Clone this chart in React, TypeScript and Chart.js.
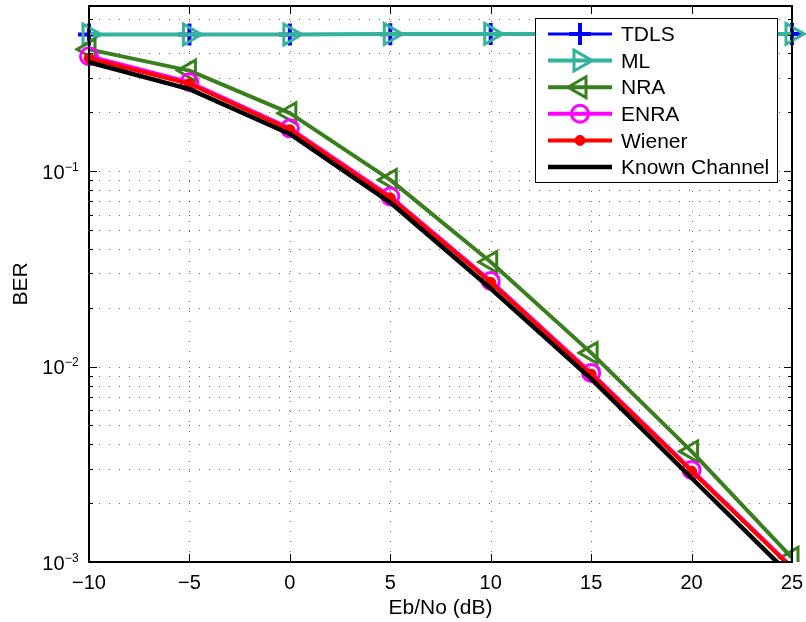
import React, { useEffect, useRef } from 'react';
import { Chart, registerables } from 'chart.js';
import { drawPoint } from 'chart.js/helpers';

Chart.register(...registerables);

// ---- data ----
const EBNO = [-10, -5, 0, 5, 10, 15, 20, 25];
const TDLS = [0.5, 0.5, 0.5, 0.502, 0.503, 0.503, 0.503, 0.503];
const ML = [0.5, 0.5, 0.501, 0.503, 0.504, 0.504, 0.504, 0.504];
const NRA = [0.42, 0.327, 0.198, 0.0902, 0.0343, 0.01175, 0.00368, 0.00105];
const ENRA = [0.387, 0.285, 0.1656, 0.0742, 0.0274, 0.00928, 0.00296, 0.00094];
const WIENER = [0.378, 0.28, 0.163, 0.073, 0.027, 0.00915, 0.00292, 0.00093];
const KNOWN = [0.361, 0.263, 0.155, 0.0691, 0.0251, 0.00865, 0.00269, 0.00084];

const SERIES_LABELS = ['TDLS', 'ML', 'NRA', 'ENRA', 'Wiener', 'Known Channel'];
const X_TICKS = [-10, -5, 0, 5, 10, 15, 20, 25];
const Y_DECADES = [0.001, 0.01, 0.1];
const Y_TICK_BASE = '10';
const Y_TICK_EXP = ['\u22123', '\u22122', '\u22121'];
const X_TITLE = 'Eb/No (dB)';
const Y_TITLE = 'BER';
const X_MIN = -10;
const X_MAX = 25;
const Y_MIN = 0.001;
const Y_MAX = 0.7;

const FONT = "'Liberation Sans', Arial, Helvetica, sans-serif";

const pts = (ys: number[]) => EBNO.map((x, i) => ({ x, y: ys[i] }));
const hideBelow = (r: number) => (c: any) => (c.raw && c.raw.y < Y_MIN ? 0 : r);
const CLIP = { left: false, top: false, right: false, bottom: 0 } as any;

const matlabPlugin = {
  id: 'matlabAxes',
  beforeDatasetsDraw(chart: any) {
    const { ctx, chartArea: a, scales } = chart;
    const x = scales.x;
    const y = scales.y;
    ctx.save();
    ctx.strokeStyle = 'rgba(0,0,0,0.6)';
    ctx.lineWidth = 1;
    ctx.setLineDash([1, 9]);
    for (const d of Y_DECADES) {
      for (let k = 1; k <= 9; k++) {
        const v = d * k;
        if (v > Y_MAX * 1.0001) continue;
        const py = Math.round(y.getPixelForValue(v)) + 0.5;
        if (py <= a.top + 2 || py >= a.bottom - 2) continue;
        ctx.beginPath();
        ctx.moveTo(a.left, py);
        ctx.lineTo(a.right, py);
        ctx.stroke();
      }
    }
    for (const v of X_TICKS) {
      const px = Math.round(x.getPixelForValue(v)) + 0.5;
      if (px <= a.left + 2 || px >= a.right - 2) continue;
      ctx.beginPath();
      ctx.moveTo(px, a.bottom);
      ctx.lineTo(px, a.top);
      ctx.stroke();
    }
    ctx.restore();
  },
  afterDatasetsDraw(chart: any) {
    const { ctx, chartArea: a, scales } = chart;
    const x = scales.x;
    const y = scales.y;
    ctx.save();
    ctx.setLineDash([]);
    ctx.strokeStyle = '#000';
    // ticks
    ctx.lineWidth = 1;
    for (const d of Y_DECADES) {
      for (let k = 1; k <= 9; k++) {
        const v = d * k;
        if (v > Y_MAX * 1.0001) continue;
        const py = Math.round(y.getPixelForValue(v)) + 0.5;
        const len = k === 1 ? 8 : 4;
        ctx.beginPath();
        ctx.moveTo(a.left, py);
        ctx.lineTo(a.left + len, py);
        ctx.moveTo(a.right, py);
        ctx.lineTo(a.right - len, py);
        ctx.stroke();
      }
    }
    for (const v of X_TICKS) {
      const px = Math.round(x.getPixelForValue(v)) + 0.5;
      ctx.beginPath();
      ctx.moveTo(px, a.bottom);
      ctx.lineTo(px, a.bottom - 8);
      ctx.moveTo(px, a.top);
      ctx.lineTo(px, a.top + 8);
      ctx.stroke();
    }
    // box
    ctx.lineWidth = 2;
    ctx.strokeRect(a.left, a.top, a.right - a.left, a.bottom - a.top);

    // y tick labels with superscript
    ctx.fillStyle = '#000';
    Y_DECADES.forEach((d, i) => {
      const py = y.getPixelForValue(d);
      ctx.font = `20px ${FONT}`;
      ctx.textAlign = 'right';
      ctx.textBaseline = 'alphabetic';
      ctx.fillText(Y_TICK_BASE, a.left - 24.5, py + 7.5);
      ctx.font = `12px ${FONT}`;
      ctx.textAlign = 'left';
      ctx.fillText(Y_TICK_EXP[i], a.left - 24, py - 0.5);
    });

    // legend
    const bx = 535.5, by = 18.5, bw = 242, bh = 164;
    ctx.fillStyle = '#fff';
    ctx.fillRect(bx, by, bw, bh);
    ctx.lineWidth = 1;
    ctx.strokeStyle = '#000';
    ctx.strokeRect(bx, by, bw, bh);
    chart.data.datasets.forEach((ds: any, i: number) => {
      const ry = 34 + i * 26.6;
      ctx.save();
      ctx.strokeStyle = ds.borderColor;
      ctx.lineWidth = ds.borderWidth;
      ctx.beginPath();
      ctx.moveTo(548, ry);
      ctx.lineTo(612, ry);
      ctx.stroke();
      if (ds.legendRadius > 0) {
        ctx.strokeStyle = ds.pointBorderColor;
        ctx.fillStyle = ds.pointBackgroundColor;
        ctx.lineWidth = ds.pointBorderWidth;
        drawPoint(ctx, {
          pointStyle: ds.pointStyle,
          rotation: ds.pointRotation || 0,
          radius: ds.legendRadius,
          borderWidth: ds.pointBorderWidth,
        } as any, 580, ry);
      }
      ctx.restore();
      ctx.fillStyle = '#000';
      ctx.font = `21px ${FONT}`;
      ctx.textAlign = 'left';
      ctx.textBaseline = 'middle';
      ctx.fillText(ds.label, 621, ry + 1.5);
    });
    ctx.restore();
  },
};

export default function App() {
  const ref = useRef<HTMLCanvasElement | null>(null);
  useEffect(() => {
    if (!ref.current) return;
    const common = { tension: 0, clip: CLIP, borderJoinStyle: 'round', borderCapStyle: 'butt' };
    const chart = new Chart(ref.current, {
      type: 'line',
      data: {
        datasets: [
          {
            ...common, label: SERIES_LABELS[0], data: pts(TDLS), order: 6,
            borderColor: '#0000FF', borderWidth: 3,
            pointStyle: 'cross', pointRadius: 11, legendRadius: 11, pointBorderWidth: 4,
            pointBorderColor: '#0000FF', pointBackgroundColor: 'rgba(0,0,0,0)',
          },
          {
            ...common, label: SERIES_LABELS[1], data: pts(ML), order: 5,
            borderColor: '#33B29C', borderWidth: 4,
            pointStyle: 'triangle', pointRotation: 90, pointRadius: 12, legendRadius: 12, pointBorderWidth: 3,
            pointBorderColor: '#33B29C', pointBackgroundColor: 'rgba(0,0,0,0)',
          },
          {
            ...common, label: SERIES_LABELS[2], data: pts(NRA), order: 4,
            borderColor: '#3A7F1E', borderWidth: 4,
            pointStyle: 'triangle', pointRotation: -90, pointRadius: 12, legendRadius: 12, pointBorderWidth: 3,
            pointBorderColor: '#3A7F1E', pointBackgroundColor: 'rgba(0,0,0,0)',
          },
          {
            ...common, label: SERIES_LABELS[3], data: pts(ENRA), order: 3,
            borderColor: '#FF00FF', borderWidth: 4,
            pointStyle: 'circle', pointRadius: hideBelow(8.5), legendRadius: 8.5, pointBorderWidth: 3,
            pointBorderColor: '#FF00FF', pointBackgroundColor: 'rgba(0,0,0,0)',
          },
          {
            ...common, label: SERIES_LABELS[4], data: pts(WIENER), order: 2,
            borderColor: '#FF0000', borderWidth: 4,
            pointStyle: 'circle', pointRadius: hideBelow(5), legendRadius: 5, pointBorderWidth: 1,
            pointBorderColor: '#FF0000', pointBackgroundColor: '#FF0000',
          },
          {
            ...common, label: SERIES_LABELS[5], data: pts(KNOWN), order: 1,
            borderColor: '#000000', borderWidth: 4.5,
            pointRadius: 0, legendRadius: 0, pointBorderWidth: 0,
            pointBorderColor: '#000', pointBackgroundColor: '#000',
          },
        ] as any,
      },
      options: {
        animation: false,
        responsive: false,
        events: [],
        layout: { autoPadding: false, padding: { top: 6, right: 14, left: 0, bottom: 0 } },
        plugins: { legend: { display: false }, tooltip: { enabled: false } },
        scales: {
          x: {
            type: 'linear', min: X_MIN, max: X_MAX, bounds: 'data',
            grid: { display: false }, border: { display: false },
            afterDataLimits: (s: any) => { s.min = X_MIN; s.max = X_MAX; },
            afterBuildTicks: (s: any) => { s.ticks = X_TICKS.map((v) => ({ value: v })); },
            ticks: {
              font: { family: FONT, size: 20 }, color: '#000', padding: 1,
              maxRotation: 0, autoSkip: false,
              callback: (v: any) => String(v).replace('-', '\u2212'),
            },
            title: {
              display: true, text: X_TITLE, color: '#000',
              font: { family: FONT, size: 21 }, padding: { top: 0, bottom: 1 },
            },
            afterFit: (s: any) => { s.height = 60; },
          },
          y: {
            type: 'logarithmic', min: Y_MIN, max: Y_MAX, bounds: 'data',
            grid: { display: false }, border: { display: false },
            afterDataLimits: (s: any) => { s.min = Y_MIN; s.max = Y_MAX; },
            afterBuildTicks: (s: any) => {
              s.min = Y_MIN; s.max = Y_MAX;
              s.ticks = Y_DECADES.map((v) => ({ value: v }));
            },
            ticks: { display: false },
            title: {
              display: true, text: Y_TITLE, color: '#000',
              font: { family: FONT, size: 21 }, padding: { top: 9, bottom: 0 },
            },
            afterFit: (s: any) => { s.width = 89; },
          },
        },
      } as any,
      plugins: [matlabPlugin],
    });
    return () => chart.destroy();
  }, []);
  return (
    <div style={{ position: 'fixed', left: 0, top: 0, width: 806, height: 622, background: '#fff' }}>
      <canvas ref={ref} width={806} height={622} style={{ display: 'block' }} />
    </div>
  );
}
